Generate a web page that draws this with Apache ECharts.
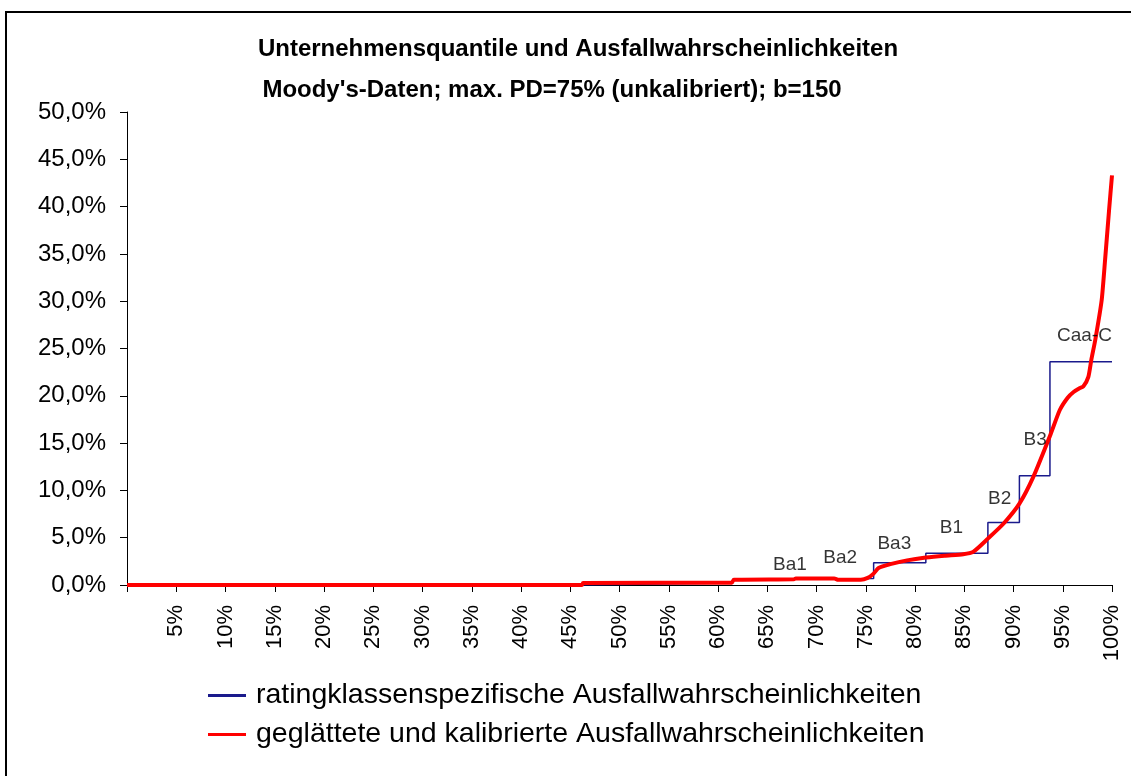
<!DOCTYPE html>
<html>
<head>
<meta charset="utf-8">
<script src="https://cdn.jsdelivr.net/npm/echarts@6/dist/echarts.min.js"></script>
<style>
  html, body { margin: 0; padding: 0; background: #fff; }
  #chart { width: 1131px; height: 776px; }
</style>
</head>
<body>
<div id="chart"></div>
<script>
// ratingklassenspezifische PD: Stufen (x = Quantil in %, y = PD in %)
const stepX = [0, 46.3, 61.5, 68.5, 75.8, 81.1, 87.4, 90.6, 93.7, 100]
const stepY = [0.0, 0.2, 0.6, 0.7, 2.36, 3.35, 6.6, 11.55, 23.6, 23.6]

// geglättete Kurve
const smoothX = [0, 46.2, 46.3, 61.4, 61.6, 67.7, 67.9, 71.8, 72.2, 74.5, 75.2, 75.8, 76.3, 77.5, 79.2, 81.1, 83.0, 84.9, 85.9, 87.4, 89.0, 90.6, 92.0, 93.7, 94.7, 95.5, 96.1, 96.7, 97.1, 97.6, 97.9, 98.3, 98.95, 99.3, 99.7, 100]
const smoothY = [0, 0, 0.2, 0.25, 0.55, 0.6, 0.7, 0.7, 0.55, 0.55, 0.75, 1.2, 1.8, 2.2, 2.6, 2.9, 3.1, 3.25, 3.5, 4.9, 6.5, 8.6, 11.4, 15.75, 18.5, 19.8, 20.4, 20.8, 21.0, 22.0, 23.8, 25.9, 30.1, 34.4, 39.6, 43.3]

// Beschriftung der Ratingklassen
const classNames = ['Ba1', 'Ba2', 'Ba3', 'B1', 'B2', 'B3', 'Caa-C']
const classX = [67.3, 72.4, 77.9, 83.7, 88.6, 92.2, 97.2]
const classY = [2.1, 2.85, 4.4, 6.0, 9.1, 15.3, 26.3]

const font = 'Liberation Sans, Arial, sans-serif'
const seriesNames = ['ratingklassenspezifische Ausfallwahrscheinlichkeiten', 'geglättete und kalibrierte Ausfallwahrscheinlichkeiten']

const chart = echarts.init(document.getElementById('chart'))
chart.setOption({
  animation: false,
  title: [
    {
      text: 'Unternehmensquantile und Ausfallwahrscheinlichkeiten',
      left: 573, textAlign: 'center', top: 32,
      textStyle: { fontFamily: font, fontSize: 24, fontWeight: 'bold', color: '#000' }
    },
    {
      text: "Moody's-Daten; max. PD=75% (unkalibriert); b=150",
      left: 547, textAlign: 'center', top: 73,
      textStyle: { fontFamily: font, fontSize: 24, fontWeight: 'bold', color: '#000' }
    }
  ],
  graphic: [{
    type: 'rect',
    shape: { x: 6, y: 12, width: 1140, height: 780 },
    style: { fill: 'none', stroke: '#000', lineWidth: 2 },
    silent: true
  }],
  legend: {
    orient: 'vertical',
    left: 203, top: 676,
    itemWidth: 38, itemHeight: 3, itemGap: 10,
    textStyle: { fontFamily: font, fontSize: 28.5, color: '#000', padding: [0, 0, 0, 5] },
    data: [
      { name: seriesNames[0], icon: 'rect' },
      { name: seriesNames[1], icon: 'rect' }
    ]
  },
  grid: { left: 127, right: 19, top: 112, bottom: 191 },
  xAxis: {
    type: 'value', min: 0, max: 100, interval: 5,
    axisLine: { lineStyle: { color: '#000', width: 1 } },
    axisTick: { show: true, length: 7, lineStyle: { color: '#000' } },
    splitLine: { show: false },
    axisLabel: {
      rotate: 90, margin: 20,
      fontFamily: font, fontSize: 22, color: '#000',
      formatter: v => v === 0 ? '' : v + '%'
    }
  },
  yAxis: {
    type: 'value', min: 0, max: 50, interval: 5,
    axisLine: { show: true, lineStyle: { color: '#000', width: 1 } },
    axisTick: { show: true, length: 7, lineStyle: { color: '#000' } },
    splitLine: { show: false },
    axisLabel: {
      margin: 21,
      fontFamily: font, fontSize: 24, color: '#000',
      formatter: v => v.toFixed(1).replace('.', ',') + '%'
    }
  },
  series: [
    {
      name: seriesNames[0],
      type: 'line', step: 'end', symbol: 'none',
      lineStyle: { color: '#1a1a8c', width: 1.5 },
      itemStyle: { color: '#1a1a8c' },
      data: stepX.map((x, i) => [x, stepY[i]]),
      z: 2
    },
    {
      name: seriesNames[1],
      type: 'line', symbol: 'none', smooth: 0.2,
      lineStyle: { color: '#ff0000', width: 4 },
      itemStyle: { color: '#ff0000' },
      data: smoothX.map((x, i) => [x, smoothY[i]]),
      z: 3
    },
    {
      type: 'scatter', symbolSize: 0, silent: true,
      label: {
        show: true, position: 'inside',
        fontFamily: font, fontSize: 19, color: '#000',
        formatter: p => classNames[p.dataIndex]
      },
      data: classX.map((x, i) => [x, classY[i]]),
      z: 4
    }
  ]
})
</script>
</body>
</html>
